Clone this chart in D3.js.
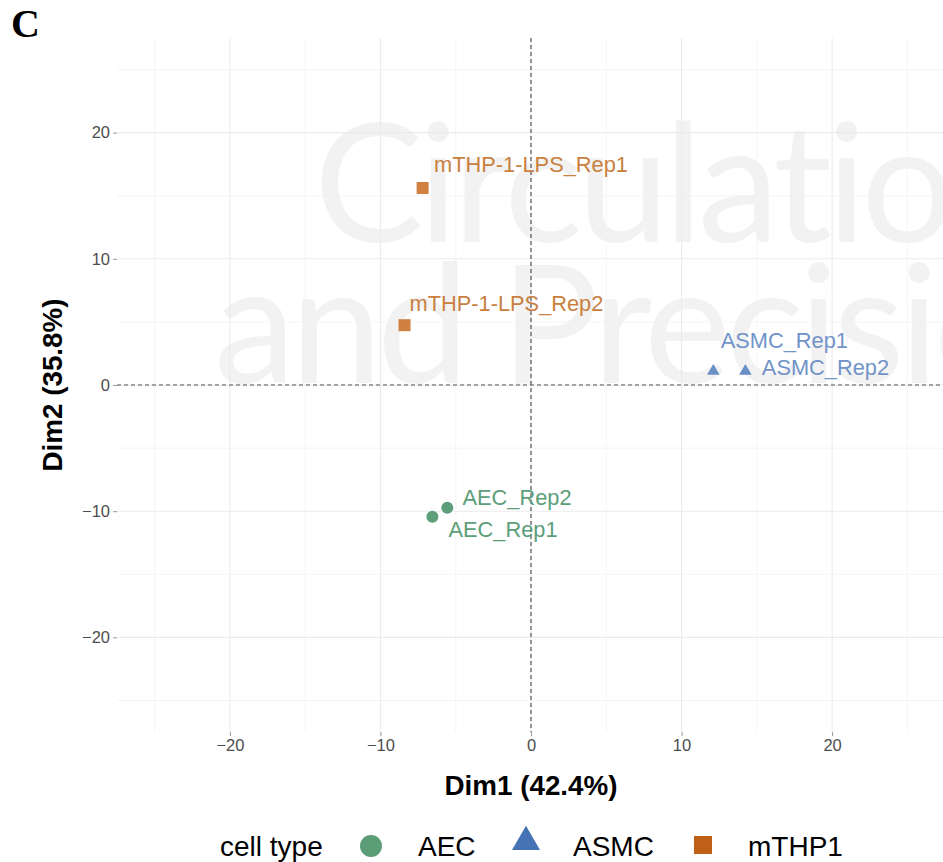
<!DOCTYPE html>
<html>
<head>
<meta charset="utf-8">
<script src="https://cdn.jsdelivr.net/npm/d3@7"></script>
<style>
  html, body { margin: 0; padding: 0; background: #fff; }
  svg { display: block; }
</style>
</head>
<body>
<script>
const width = 943;
const height = 862;

// samples (PCA coordinates)
const sampleNames = ["AEC_Rep1", "AEC_Rep2", "ASMC_Rep1", "ASMC_Rep2", "mTHP-1-LPS_Rep1", "mTHP-1-LPS_Rep2"];
const cellTypes = ["AEC", "AEC", "ASMC", "ASMC", "mTHP1", "mTHP1"];
const dim1 = [-6.55, -5.56, 12.11, 14.24, -7.2, -8.4];
const dim2 = [-10.44, -9.72, 1.1, 1.1, 15.61, 4.74];
// repelled label centres, in data units
const labelDim1 = [-1.86, -0.93, 16.83, 19.56, 0.0, -1.63];
const labelDim2 = [-11.47, -8.93, 3.53, 1.39, 17.5, 6.47];

const majorTicks = [-20, -10, 0, 10, 20];
const minorTicks = [-25, -15, -5, 5, 15, 25];
const legendLabels = ["AEC", "ASMC", "mTHP1"];

const xTitle = "Dim1 (42.4%)";
const yTitle = "Dim2 (35.8%)";
const legendTitle = "cell type";

const pointColor = { AEC: "#5c9e79", ASMC: "#6a8fc6", mTHP1: "#d0803f" };
const textColor = { AEC: "#5c9e79", ASMC: "#7193c8", mTHP1: "#c9803f" };
const keyColor = { AEC: "#5b9d77", ASMC: "#4472b4", mTHP1: "#c05f16" };
const shapes = { AEC: d3.symbolCircle, ASMC: d3.symbolTriangle, mTHP1: d3.symbolSquare };
const pointSize = { AEC: 113, ASMC: 68, mTHP1: 144 };
const keySize = { AEC: 380, ASMC: 340, mTHP1: 324 };

const FONT = "'Liberation Sans', Arial, Helvetica, sans-serif";

const panel = { left: 117, right: 945, top: 38, bottom: 732 };

const x = d3.scaleLinear().domain([-27.5, 27.5]).range([panel.left, panel.right]);
const y = d3.scaleLinear().domain([-27.5, 27.5]).range([panel.bottom, panel.top]);

const svg = d3.select("body")
	.append("svg")
	.attr("width", width)
	.attr("height", height);

svg.append("rect")
	.attr("width", width)
	.attr("height", height)
	.attr("fill", "#fff");

// faint watermark behind the panel
const wm = svg.append("g")
	.attr("font-family", "Lato, 'Open Sans', sans-serif")
	.attr("font-weight", 400)
	.attr("font-size", "164px")
	.attr("letter-spacing", "-5px")
	.attr("fill", "#f2f2f2");
wm.append("text").attr("x", 314).attr("y", 242).text("Circulation");
wm.append("text").attr("x", 214).attr("y", 383).text("and Precision");

// grid
const grid = svg.append("g");
grid.selectAll(".minor-x")
	.data(minorTicks)
	.enter()
	.append("line")
	.attr("x1", function (d) { return x(d); })
	.attr("x2", function (d) { return x(d); })
	.attr("y1", panel.top)
	.attr("y2", panel.bottom)
	.attr("stroke", "#f3f3f3")
	.attr("stroke-width", 0.8);
grid.selectAll(".minor-y")
	.data(minorTicks)
	.enter()
	.append("line")
	.attr("y1", function (d) { return y(d); })
	.attr("y2", function (d) { return y(d); })
	.attr("x1", panel.left)
	.attr("x2", panel.right)
	.attr("stroke", "#f3f3f3")
	.attr("stroke-width", 0.8);
grid.selectAll(".major-x")
	.data(majorTicks)
	.enter()
	.append("line")
	.attr("x1", function (d) { return x(d); })
	.attr("x2", function (d) { return x(d); })
	.attr("y1", panel.top)
	.attr("y2", panel.bottom)
	.attr("stroke", "#ebebeb")
	.attr("stroke-width", 1.1);
grid.selectAll(".major-y")
	.data(majorTicks)
	.enter()
	.append("line")
	.attr("y1", function (d) { return y(d); })
	.attr("y2", function (d) { return y(d); })
	.attr("x1", panel.left)
	.attr("x2", panel.right)
	.attr("stroke", "#ebebeb")
	.attr("stroke-width", 1.1);

// zero reference lines
svg.append("line")
	.attr("x1", x(0)).attr("x2", x(0))
	.attr("y1", panel.top).attr("y2", panel.bottom)
	.attr("stroke", "#555")
	.attr("stroke-width", 1.2)
	.attr("stroke-dasharray", "4,3");
svg.append("line")
	.attr("x1", panel.left).attr("x2", panel.right)
	.attr("y1", y(0)).attr("y2", y(0))
	.attr("stroke", "#555")
	.attr("stroke-width", 1.2)
	.attr("stroke-dasharray", "4,3");

// axes
const xAxis = svg.append("g")
	.attr("transform", "translate(0," + panel.bottom + ")")
	.call(d3.axisBottom(x).tickValues(majorTicks).tickSize(4).tickPadding(3));
const yAxis = svg.append("g")
	.attr("transform", "translate(" + panel.left + ",0)")
	.call(d3.axisLeft(y).tickValues(majorTicks).tickSize(4).tickPadding(3));
[xAxis, yAxis].forEach(function (ax) {
	ax.select(".domain").remove();
	ax.selectAll(".tick line").attr("stroke", "#999");
	ax.selectAll(".tick text")
		.attr("fill", "#4d4d4d")
		.attr("font-family", FONT)
		.attr("font-size", "16.5px");
});

// points
const samples = sampleNames.map(function (name, i) {
	return { name: name, type: cellTypes[i], x: dim1[i], y: dim2[i], lx: labelDim1[i], ly: labelDim2[i] };
});

svg.selectAll(".pt")
	.data(samples)
	.enter()
	.append("path")
	.attr("transform", function (d) { return "translate(" + x(d.x) + "," + y(d.y) + ")"; })
	.attr("d", function (d) { return d3.symbol().type(shapes[d.type]).size(pointSize[d.type])(); })
	.attr("fill", function (d) { return pointColor[d.type]; });

svg.selectAll(".lbl")
	.data(samples)
	.enter()
	.append("text")
	.attr("x", function (d) { return x(d.lx); })
	.attr("y", function (d) { return y(d.ly); })
	.attr("dy", "0.35em")
	.attr("text-anchor", "middle")
	.attr("font-family", FONT)
	.attr("font-size", "21.8px")
	.attr("fill", function (d) { return textColor[d.type]; })
	.text(function (d) { return d.name; });

// axis titles
svg.append("text")
	.attr("x", x(0))
	.attr("y", 795)
	.attr("text-anchor", "middle")
	.attr("font-family", FONT)
	.attr("font-weight", "bold")
	.attr("font-size", "27.8px")
	.attr("fill", "#000")
	.text(xTitle);
svg.append("text")
	.attr("transform", "translate(62," + y(0) + ") rotate(-90)")
	.attr("text-anchor", "middle")
	.attr("font-family", FONT)
	.attr("font-weight", "bold")
	.attr("font-size", "27.8px")
	.attr("fill", "#000")
	.text(yTitle);

// legend
const legend = svg.append("g")
	.attr("font-family", FONT)
	.attr("font-size", "28px")
	.attr("fill", "#000");
legend.append("text").attr("x", 220).attr("y", 856).text(legendTitle);
const keyX = [371, 526, 703];
const keyY = [846, 842, 845];
const textX = [418, 573, 748];
legendLabels.forEach(function (lab, i) {
	legend.append("path")
		.attr("transform", "translate(" + keyX[i] + "," + keyY[i] + ")")
		.attr("d", d3.symbol().type(shapes[lab]).size(keySize[lab])())
		.attr("fill", keyColor[lab]);
	legend.append("text").attr("x", textX[i]).attr("y", 856).text(lab);
});

// panel tag
svg.append("text")
	.attr("x", 11)
	.attr("y", 37)
	.attr("font-family", "'Liberation Serif', 'Times New Roman', serif")
	.attr("font-weight", "bold")
	.attr("font-size", "40px")
	.attr("fill", "#000")
	.text("C");
</script>
</body>
</html>
